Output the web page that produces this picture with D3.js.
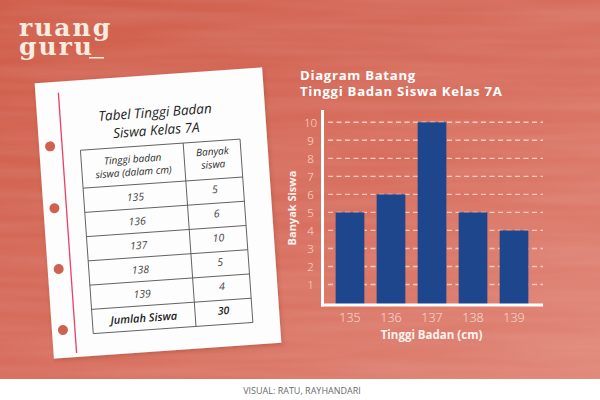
<!DOCTYPE html>
<html>
<head>
<meta charset="utf-8">
<script src="https://cdn.jsdelivr.net/npm/d3@7"></script>
<style>
html,body{margin:0;padding:0;background:#fff;}
svg{display:block;}
</style>
</head>
<body>
<svg id="chart" width="600" height="400"></svg>
<script>
// ---- data ----
const categories = ["135", "136", "137", "138", "139"];
const values = [5, 6, 10, 5, 4];
const yTicks = [1, 2, 3, 4, 5, 6, 7, 8, 9, 10];
const chartTitle = ["Diagram Batang", "Tinggi Badan Siswa Kelas 7A"];
const xTitle = "Tinggi Badan (cm)";
const yTitle = "Banyak Siswa";
const tableTitle = ["Tabel Tinggi Badan", "Siswa Kelas 7A"];
const tableHeader1 = ["Tinggi badan", "siswa (dalam cm)"];
const tableHeader2 = ["Banyak", "siswa"];
const totalLabel = "Jumlah Siswa";
const credit = "VISUAL: RATU, RAYHANDARI";
const logoLines = ["ruang", "guru"];

const svg = d3.select("#chart");
const defs = svg.append("defs");

// background gradient
const bg = defs.append("linearGradient").attr("id", "bg").attr("x1", "0").attr("y1", "0").attr("x2", "1").attr("y2", "1");
bg.append("stop").attr("offset", "0%").attr("stop-color", "#cf5c49");
bg.append("stop").attr("offset", "55%").attr("stop-color", "#d87060");
bg.append("stop").attr("offset", "100%").attr("stop-color", "#e08778");

// subtle wood grain texture
const f = defs.append("filter").attr("id", "grain").attr("x", 0).attr("y", 0).attr("width", "100%").attr("height", "100%");
f.append("feTurbulence").attr("type", "fractalNoise").attr("baseFrequency", "0.006 0.09").attr("numOctaves", 2).attr("seed", 3).attr("result", "n");
f.append("feColorMatrix").attr("type", "matrix")
  .attr("values", "0 0 0 0 1  0 0 0 0 1  0 0 0 0 1  0.16 0 0 0 -0.05");

const shadow = defs.append("filter").attr("id", "shadow").attr("x", "-10%").attr("y", "-10%").attr("width", "120%").attr("height", "120%");
shadow.append("feDropShadow").attr("dx", 1).attr("dy", 2).attr("stdDeviation", 2).attr("flood-color", "#7a2a20").attr("flood-opacity", 0.3);

svg.append("rect").attr("width", 600).attr("height", 380).attr("fill", "url(#bg)");
svg.append("rect").attr("width", 600).attr("height", 380).attr("filter", "url(#grain)");

// bottom strip
svg.append("rect").attr("x", 0).attr("y", 379).attr("width", 600).attr("height", 21).attr("fill", "#ffffff");
svg.append("text").attr("x", 302).attr("y", 393.5).attr("text-anchor", "middle")
  .attr("font-family", "Open Sans, sans-serif").attr("font-size", 9).attr("fill", "#6b6b6b")
  .text(credit);

// logo
const logo = svg.append("g").attr("fill", "#f8ecdf").attr("font-family", "DejaVu Serif, serif")
  .attr("font-size", 25).attr("font-weight", 700).attr("letter-spacing", 2);
logo.selectAll("text").data(logoLines).join("text")
  .attr("x", 19).attr("y", (d, i) => 36 + i * 19).text(d => d);
logo.append("rect").attr("x", 89).attr("y", 57).attr("width", 15).attr("height", 1.5);

// ---- paper with table ----
const paper = svg.append("g").attr("transform", "translate(158,213) rotate(-4)");
paper.append("rect").attr("x", -114).attr("y", -138).attr("width", 228).attr("height", 276)
  .attr("fill", "#fdfdfd").attr("filter", "url(#shadow)");
paper.append("line").attr("x1", -91).attr("x2", -91).attr("y1", -127).attr("y2", 134)
  .attr("stroke", "#ec3f63").attr("stroke-width", 1.3);
paper.selectAll("circle.hole").data([-74, -12, 49, 110]).join("circle")
  .attr("class", "hole").attr("cx", -103).attr("cy", d => d).attr("r", 5).attr("fill", "#d0604f");

const hand = "Open Sans, sans-serif";
paper.selectAll("text.ttl").data(tableTitle).join("text").attr("class", "ttl")
  .attr("x", 4).attr("y", (d, i) => -96 + i * 18).attr("text-anchor", "middle")
  .attr("font-family", hand).attr("font-style", "italic").attr("font-size", 13.5).attr("fill", "#222")
  .text(d => d);

const tX0 = -73, tX1 = 30, tX2 = 87, tY0 = -68, headH = 38, rowH = 24.3;
const rows = categories.map((c, i) => [c, String(values[i])]);
rows.push([totalLabel, String(d3.sum(values))]);
const tY1 = tY0 + headH + rows.length * rowH;
const tbl = paper.append("g").attr("stroke", "#555").attr("stroke-width", 0.9).attr("fill", "none");
tbl.append("rect").attr("x", tX0).attr("y", tY0).attr("width", tX2 - tX0).attr("height", tY1 - tY0);
tbl.append("line").attr("x1", tX1).attr("x2", tX1).attr("y1", tY0).attr("y2", tY1);
tbl.selectAll("line.r").data(d3.range(rows.length)).join("line").attr("class", "r")
  .attr("x1", tX0).attr("x2", tX2)
  .attr("y1", i => tY0 + headH + i * rowH).attr("y2", i => tY0 + headH + i * rowH);

const c1 = (tX0 + tX1) / 2, c2 = (tX1 + tX2) / 2;
const tt = paper.append("g").attr("font-family", hand).attr("font-style", "italic").attr("fill", "#2b2b2b").attr("text-anchor", "middle");
tt.selectAll("text.h1").data(tableHeader1).join("text").attr("class", "h1")
  .attr("x", c1).attr("y", (d, i) => tY0 + 16 + i * 13).attr("font-size", 10).text(d => d);
tt.selectAll("text.h2").data(tableHeader2).join("text").attr("class", "h2")
  .attr("x", c2).attr("y", (d, i) => tY0 + 14 + i * 13).attr("font-size", 10).text(d => d);
rows.forEach((r, i) => {
  const yy = tY0 + headH + i * rowH + rowH / 2 + 4;
  const last = i === rows.length - 1;
  tt.append("text").attr("x", c1).attr("y", yy).attr("font-size", last ? 11 : 10.5)
    .attr("font-weight", last ? 600 : 400).attr("fill", last ? "#222" : "#444").text(r[0]);
  tt.append("text").attr("x", c2).attr("y", yy - 2).attr("font-size", 10.5)
    .attr("font-weight", last ? 600 : 400).attr("fill", last ? "#222" : "#444").text(r[1]);
});

// ---- bar chart ----
const font = "Open Sans, sans-serif";
const x = d3.scaleBand().domain(categories).range([329.5, 534.5]).paddingInner(0.3).paddingOuter(0.15);
const y = d3.scaleLinear().domain([0, 10]).range([302.5, 122.3]);

svg.selectAll("text.ct").data(chartTitle).join("text").attr("class", "ct")
  .attr("x", 300).attr("y", (d, i) => 79.5 + i * 16.5)
  .attr("font-family", font).attr("font-weight", 700).attr("font-size", 13.2)
  .attr("letter-spacing", 0.7).attr("fill", "#ffffff")
  .text(d => d);

// gridlines
svg.append("g").selectAll("line").data(yTicks).join("line")
  .attr("x1", 328).attr("x2", 543).attr("y1", d => y(d)).attr("y2", d => y(d))
  .attr("stroke", "#f6cbbf").attr("stroke-width", 1.4).attr("stroke-dasharray", "5,3.5");

// bars
svg.append("g").selectAll("rect").data(values).join("rect")
  .attr("x", (d, i) => x(categories[i])).attr("width", x.bandwidth())
  .attr("y", d => y(d)).attr("height", d => y(0) - y(d) + 2.5)
  .attr("fill", "#1d468d");

// axes
const yAxis = svg.append("g").attr("transform", "translate(322.5,0)")
  .call(d3.axisLeft(y).tickValues(yTicks).tickSize(0).tickFormat(d3.format("d")));
yAxis.select(".domain").remove();
yAxis.selectAll("text").attr("x", -12).attr("text-anchor", "middle").attr("dy", "0.35em")
  .attr("font-family", font).attr("font-weight", 300).attr("font-size", 11.5).attr("fill", "#fbe0d8");

const xAxis = svg.append("g").attr("transform", "translate(0,305)")
  .call(d3.axisBottom(x).tickSize(0).tickPadding(8));
xAxis.select(".domain").remove();
xAxis.selectAll("text").attr("font-family", font).attr("font-weight", 300).attr("font-size", 12.5).attr("fill", "#fbe0d8");

svg.append("line").attr("x1", 322.5).attr("x2", 322.5).attr("y1", 110).attr("y2", 306.5)
  .attr("stroke", "#ffffff").attr("stroke-width", 3);
svg.append("line").attr("x1", 321).attr("x2", 543).attr("y1", 305).attr("y2", 305)
  .attr("stroke", "#ffffff").attr("stroke-width", 3);

svg.append("text").attr("x", 431.5).attr("y", 339).attr("text-anchor", "middle")
  .attr("font-family", font).attr("font-weight", 700).attr("font-size", 11.5).attr("fill", "#fff3ef")
  .text(xTitle);
svg.append("text").attr("transform", "translate(295.5,208) rotate(-90)").attr("text-anchor", "middle")
  .attr("font-family", font).attr("font-weight", 700).attr("font-size", 11).attr("fill", "#fff3ef")
  .text(yTitle);
</script>
</body>
</html>
